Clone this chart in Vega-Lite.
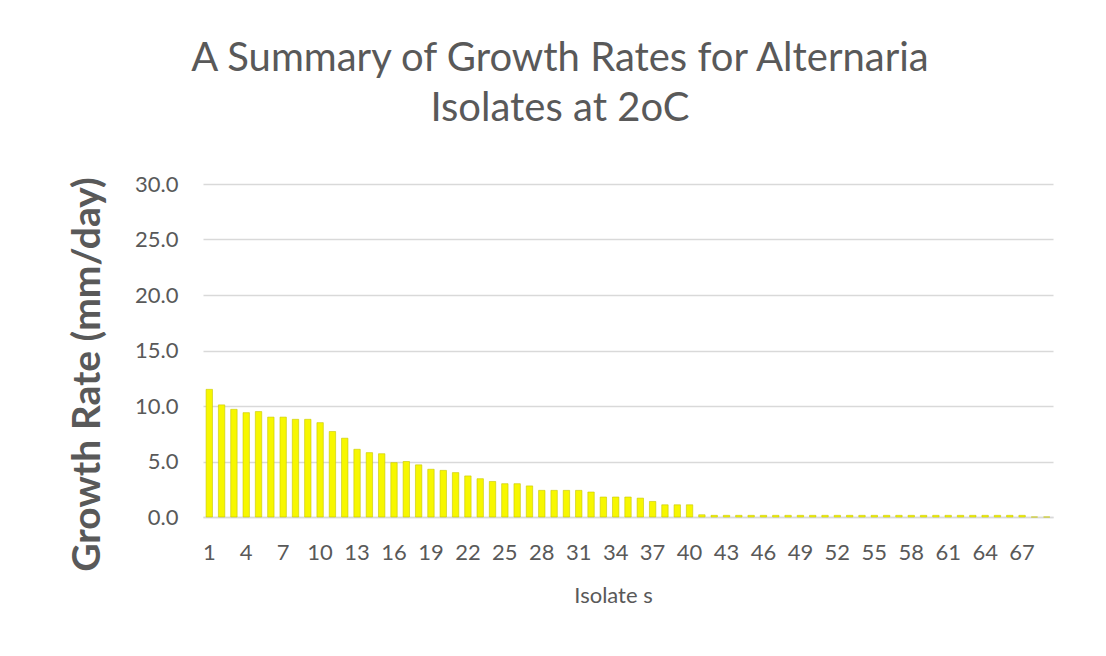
{
  "$schema": "https://vega.github.io/schema/vega-lite/v6.json",
  "width": 850,
  "height": 333,
  "autosize": {"type": "none"},
  "padding": {"left": 203, "top": 184, "right": 53, "bottom": 139},
  "background": "white",
  "title": {
    "text": ["A Summary of Growth Rates for Alternaria", "Isolates at 2oC"],
    "font": "Lato",
    "fontSize": 40,
    "fontWeight": "normal",
    "color": "#595959",
    "anchor": "middle",
    "dx": -68,
    "offset": 44,
    "lineHeight": 50
  },
  "data": {
    "values": [
      {"isolate": 1, "rate": 11.5}, {"isolate": 2, "rate": 10.1}, {"isolate": 3, "rate": 9.7},
      {"isolate": 4, "rate": 9.4}, {"isolate": 5, "rate": 9.5}, {"isolate": 6, "rate": 9.0},
      {"isolate": 7, "rate": 9.0}, {"isolate": 8, "rate": 8.8}, {"isolate": 9, "rate": 8.8},
      {"isolate": 10, "rate": 8.5}, {"isolate": 11, "rate": 7.7}, {"isolate": 12, "rate": 7.1},
      {"isolate": 13, "rate": 6.1}, {"isolate": 14, "rate": 5.8}, {"isolate": 15, "rate": 5.7},
      {"isolate": 16, "rate": 4.9}, {"isolate": 17, "rate": 5.0}, {"isolate": 18, "rate": 4.7},
      {"isolate": 19, "rate": 4.3}, {"isolate": 20, "rate": 4.2}, {"isolate": 21, "rate": 4.0},
      {"isolate": 22, "rate": 3.7}, {"isolate": 23, "rate": 3.45}, {"isolate": 24, "rate": 3.2},
      {"isolate": 25, "rate": 3.0}, {"isolate": 26, "rate": 3.0}, {"isolate": 27, "rate": 2.8},
      {"isolate": 28, "rate": 2.4}, {"isolate": 29, "rate": 2.4}, {"isolate": 30, "rate": 2.4},
      {"isolate": 31, "rate": 2.4}, {"isolate": 32, "rate": 2.25}, {"isolate": 33, "rate": 1.8},
      {"isolate": 34, "rate": 1.8}, {"isolate": 35, "rate": 1.8}, {"isolate": 36, "rate": 1.7},
      {"isolate": 37, "rate": 1.4}, {"isolate": 38, "rate": 1.1}, {"isolate": 39, "rate": 1.1},
      {"isolate": 40, "rate": 1.1}, {"isolate": 41, "rate": 0.2}, {"isolate": 42, "rate": 0.15},
      {"isolate": 43, "rate": 0.15}, {"isolate": 44, "rate": 0.15}, {"isolate": 45, "rate": 0.15},
      {"isolate": 46, "rate": 0.15}, {"isolate": 47, "rate": 0.15}, {"isolate": 48, "rate": 0.15},
      {"isolate": 49, "rate": 0.15}, {"isolate": 50, "rate": 0.15}, {"isolate": 51, "rate": 0.15},
      {"isolate": 52, "rate": 0.15}, {"isolate": 53, "rate": 0.15}, {"isolate": 54, "rate": 0.15},
      {"isolate": 55, "rate": 0.15}, {"isolate": 56, "rate": 0.15}, {"isolate": 57, "rate": 0.15},
      {"isolate": 58, "rate": 0.15}, {"isolate": 59, "rate": 0.15}, {"isolate": 60, "rate": 0.15},
      {"isolate": 61, "rate": 0.15}, {"isolate": 62, "rate": 0.15}, {"isolate": 63, "rate": 0.15},
      {"isolate": 64, "rate": 0.15}, {"isolate": 65, "rate": 0.15}, {"isolate": 66, "rate": 0.15},
      {"isolate": 67, "rate": 0.15}, {"isolate": 68, "rate": 0}, {"isolate": 69, "rate": 0}
    ]
  },
  "mark": {"type": "bar", "color": "#f7f700", "stroke": "#c8c800", "strokeWidth": 0.6},
  "encoding": {
    "x": {
      "field": "isolate",
      "type": "ordinal",
      "sort": null,
      "scale": {"paddingInner": 0.48, "paddingOuter": 0.25},
      "axis": {
        "values": [1, 4, 7, 10, 13, 16, 19, 22, 25, 28, 31, 34, 37, 40, 43, 46, 49, 52, 55, 58, 61, 64, 67],
        "labelAngle": 0,
        "labelFont": "Lato",
        "labelFontSize": 22,
        "labelColor": "#595959",
        "labelPadding": 25,
        "ticks": false,
        "domainColor": "#d9d9d9",
        "domainWidth": 1.5,
        "title": "Isolate s",
        "titleFont": "Lato",
        "titleFontSize": 22,
        "titleFontWeight": "normal",
        "titleColor": "#595959",
        "titlePadding": 22,
        "titleX": 410
      }
    },
    "y": {
      "field": "rate",
      "type": "quantitative",
      "scale": {"domain": [0, 30]},
      "axis": {
        "values": [0, 5, 10, 15, 20, 25, 30],
        "format": ".1f",
        "labelFont": "Lato",
        "labelFontSize": 22,
        "labelColor": "#595959",
        "labelPadding": 25,
        "ticks": false,
        "domain": false,
        "gridColor": "#d9d9d9",
        "gridWidth": 1.5,
        "title": "Growth Rate (mm/day)",
        "titleFont": "Lato",
        "titleFontSize": 39,
        "titleFontWeight": "bold",
        "titleColor": "#595959",
        "titleAngle": -90,
        "titleAlign": "center",
        "titleBaseline": "middle",
        "titleX": -116,
        "titleY": 190
      }
    }
  },
  "config": {"view": {"stroke": null}}
}
